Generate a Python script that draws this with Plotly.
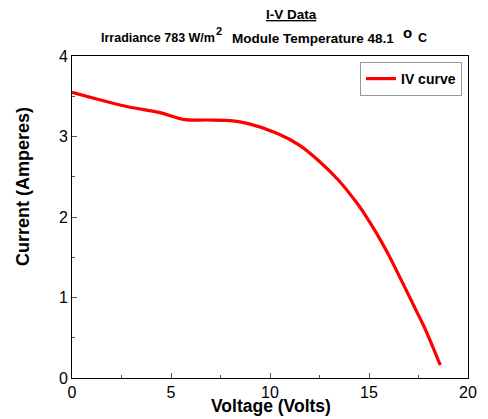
import plotly.graph_objects as go

voltage = [0, 1.5, 2.8, 4.4, 5.7, 6.8, 7.8, 8.9, 10.35, 11.5, 12.5, 13.45, 14.4, 14.9,
           15.4, 15.9, 16.4, 16.9, 17.4, 17.75, 18.2, 18.6]
current = [3.55, 3.45, 3.37, 3.30, 3.21, 3.205, 3.20, 3.16, 3.04, 2.89, 2.69, 2.46, 2.17, 1.99,
           1.79, 1.57, 1.33, 1.08, 0.83, 0.655, 0.40, 0.16]
series_name = "IV curve"
title_text = "I-V Data"
subtitle_part1 = "Irradiance 783 W/m"
subtitle_sup1 = "2"
subtitle_part2 = "Module Temperature 48.1"
subtitle_sup2 = "o"
subtitle_part3 = "C"
x_title = "Voltage (Volts)"
y_title = "Current (Amperes)"

OFF = 8  # page body margin
W, H = 488 - OFF, 419 - OFF
L, R, T, B = 72 - OFF, 20, 56 - OFF, 41
pw, ph = W - L - R, H - T - B

def px(xp):
    return (xp - OFF - L) / pw

def py(yp):
    return (H - B - (yp - OFF)) / ph

font = "Liberation Sans, Arial, sans-serif"

fig = go.Figure()
fig.add_trace(go.Scatter(x=voltage, y=current, mode="lines", name="<b>" + series_name + "</b>",
                         line=dict(color="#ff0000", width=3.2, shape="spline", smoothing=0.9)))

axis_common = dict(showline=True, linecolor="black", linewidth=1, mirror=True,
                   ticks="inside", ticklen=5, tickcolor="#555", showgrid=False, zeroline=False,
                   tickfont=dict(family=font, size=16, color="black"))
fig.update_xaxes(range=[0, 20], tickvals=[0, 5, 10, 15, 20],
                 minor=dict(tickvals=[2.5, 7.5, 12.5, 17.5], ticks="inside", ticklen=3, tickcolor="#555"),
                 **axis_common)
fig.update_yaxes(range=[0, 4], tickvals=[0, 1, 2, 3, 4],
                 minor=dict(tickvals=[0.5, 1.5, 2.5, 3.5], ticks="inside", ticklen=3, tickcolor="#555"),
                 **axis_common)

ann = [
    dict(text="<b><u>" + title_text + "</u></b>", x=px(291), y=py(14.5), font=dict(size=13.5)),
    dict(text="<b>" + subtitle_part1 + "</b>", x=px(157.5), y=py(38), font=dict(size=12.5)),
    dict(text="<b>" + subtitle_sup1 + "</b>", x=px(218.5), y=py(31), font=dict(size=11)),
    dict(text="<b>" + subtitle_part2 + "</b>", x=px(312.5), y=py(38), font=dict(size=13.5)),
    dict(text="<b>" + subtitle_sup2 + "</b>", x=px(407), y=py(32), font=dict(size=15)),
    dict(text="<b>" + subtitle_part3 + "</b>", x=px(422), y=py(38), font=dict(size=12.5)),
    dict(text="<b>" + x_title + "</b>", x=px(271), y=py(406), font=dict(size=17.5)),
    dict(text="<b>" + y_title + "</b>", x=px(23), y=py(187), font=dict(size=18), textangle=-90),
]
for a in ann:
    a.update(xref="paper", yref="paper", showarrow=False, xanchor="center", yanchor="middle")
    a["font"].update(family=font, color="black")

fig.update_layout(
    width=W, height=H, margin=dict(l=L, r=R, t=T, b=B),
    paper_bgcolor="white", plot_bgcolor="white",
    annotations=ann,
    showlegend=True,
    legend=dict(x=px(462), y=py(62), xanchor="right", yanchor="top",
                bordercolor="#999", borderwidth=1, bgcolor="white",
                font=dict(family=font, size=14, color="black"),
                itemwidth=30, tracegroupgap=0),
)

fig.write_html("out.html")
